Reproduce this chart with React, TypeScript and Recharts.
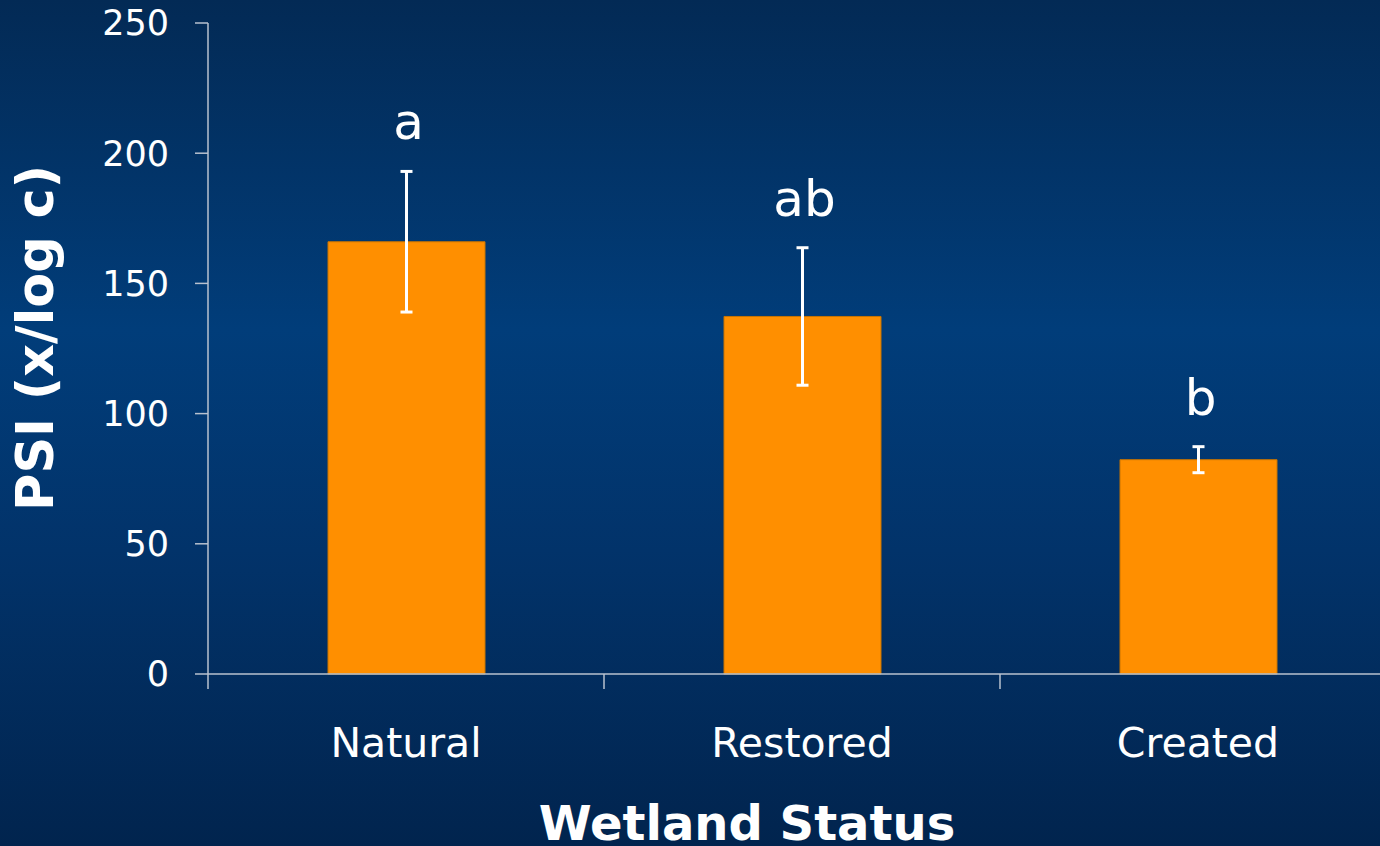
import { BarChart, Bar, XAxis, YAxis, ErrorBar, LabelList } from 'recharts'

const STATUSES = ['Natural', 'Restored', 'Created']
const PSI_MEANS = [166, 137.3, 82.3]
const PSI_ERRORS = [27, 26.4, 5]
const GROUP_LETTERS = ['a', 'ab', 'b']
const Y_TICKS = [0, 50, 100, 150, 200, 250]

const chartData = STATUSES.map((status, i) => ({
  status,
  psi: PSI_MEANS[i],
  err: PSI_ERRORS[i],
  letter: GROUP_LETTERS[i],
}))

const FONT = '"DejaVu Sans", Verdana, sans-serif'
const AXIS_COLOR = '#b9c2cf'

// category label centred in its band, tick mark on the band's left edge
function StatusTick(props: any) {
  const { x, y, payload } = props
  const edge = x - (payload.offset ?? 0)
  return (
    <g>
      <line x1={edge} y1={y} x2={edge} y2={y + 15} stroke={AXIS_COLOR} strokeWidth={1.5} />
      <text x={x} y={y + 83} textAnchor="middle" fill="#ffffff" fontSize={41} fontFamily={FONT}>
        {payload.value}
      </text>
    </g>
  )
}

// significance letter sits above the top of the error bar
function LetterLabel(props: any) {
  const { x, y, width, height, value, index } = props
  const pxPerUnit = height / PSI_MEANS[index]
  const errTop = y - PSI_ERRORS[index] * pxPerUnit
  return (
    <text x={x + width / 2 + 2} y={errTop - 32} textAnchor="middle" fill="#ffffff" fontSize={50} fontFamily={FONT}>
      {value}
    </text>
  )
}

export default function App() {
  return (
    <div
      style={{
        width: 1380,
        height: 846,
        position: 'relative',
        overflow: 'hidden',
        background: 'linear-gradient(180deg, #032a55 0%, #013d7a 39%, #02336a 65%, #01244e 100%)',
      }}
    >
      <style>{`body { margin: 0; }`}</style>
      <BarChart
        width={1420}
        height={846}
        data={chartData}
        margin={{ top: 23, right: 24, bottom: 0, left: 0 }}
        style={{ fontFamily: FONT }}
      >
        <XAxis
          dataKey="status"
          height={172}
          axisLine={{ stroke: AXIS_COLOR, strokeWidth: 1.5 }}
          tickLine={false}
          tickSize={0}
          tickMargin={0}
          interval={0}
          tick={<StatusTick />}
          label={{
            content: () => (
              <text x={747} y={840} textAnchor="middle" fill="#ffffff" fontSize={48} fontWeight="bold" fontFamily={FONT}>
                Wetland Status
              </text>
            ),
          }}
        />
        <YAxis
          width={208}
          domain={[0, 250]}
          ticks={Y_TICKS}
          interval={0}
          axisLine={{ stroke: AXIS_COLOR, strokeWidth: 1.5 }}
          tickLine={{ stroke: AXIS_COLOR, strokeWidth: 1.5 }}
          tickSize={13}
          tickMargin={26}
          tick={{ fill: '#ffffff', fontSize: 35, fontFamily: FONT }}
          label={{
            content: () => (
              <text
                x={53}
                y={338}
                transform="rotate(-90, 53, 338)"
                textAnchor="middle"
                fill="#ffffff"
                fontSize={51}
                fontWeight="bold"
                fontFamily={FONT}
              >
                PSI (x/log c)
              </text>
            ),
          }}
        />
        <Bar dataKey="psi" fill="#ff8f00" stroke="#c97400" strokeWidth={1} barSize={157} isAnimationActive={false}>
          <ErrorBar dataKey="err" direction="y" width={6} stroke="#ffffff" strokeWidth={3} isAnimationActive={false} />
          <LabelList dataKey="letter" content={<LetterLabel />} />
        </Bar>
      </BarChart>
    </div>
  )
}
